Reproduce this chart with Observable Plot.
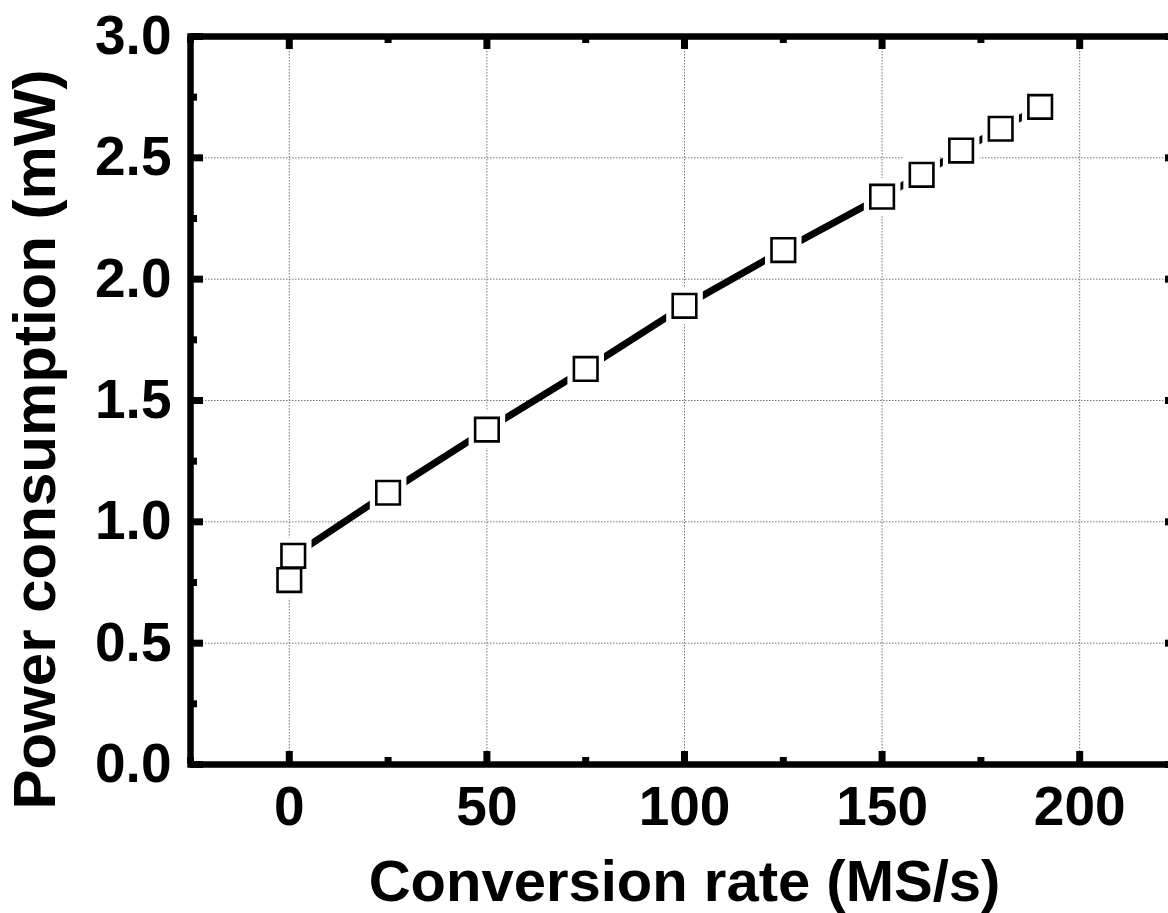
<!DOCTYPE html>
<html>
<head>
<meta charset="utf-8">
<script src="https://cdn.jsdelivr.net/npm/d3@7"></script>
<script src="https://cdn.jsdelivr.net/npm/@observablehq/plot@0.6"></script>
<style>
  html, body { margin: 0; padding: 0; background: #fff; overflow: hidden; }
  #chart svg { display: block; }
</style>
</head>
<body>
<div id="chart"></div>
<script>
// Data
const rate = [0, 1, 25, 50, 75, 100, 125, 150, 160, 170, 180, 190];          // MS/s
const power = [0.76, 0.86, 1.12, 1.38, 1.63, 1.89, 2.12, 2.34, 2.43, 2.53, 2.62, 2.71]; // mW
const xMajorTicks = [0, 50, 100, 150, 200];
const xMinorTicks = [-25, 25, 75, 125, 175, 225];
const yMajorTicks = [0, 0.5, 1.0, 1.5, 2.0, 2.5, 3.0];
const yMinorTicks = [0.25, 0.75, 1.25, 1.75, 2.25, 2.75];
const xTitle = "Conversion rate (MS/s)";
const yTitle = "Power consumption (mW)";

const data = rate.map((r, i) => ({rate: r, power: power[i]}));

const W = 1168, H = 913;
const mL = 190, mR = -10, mT = 36, mB = 149;
const plotW = W - mL - mR, plotH = H - mT - mB;
const majorLen = 13, minorLen = 7;
const tickW = 7;

const chart = Plot.plot({
  width: W,
  height: H,
  marginLeft: mL,
  marginRight: mR,
  marginTop: mT,
  marginBottom: mB,
  style: {fontFamily: "'Liberation Sans', Arial, sans-serif", fontWeight: "bold", background: "white", color: "black", overflow: "hidden"},
  x: {domain: [-25, 225]},
  y: {domain: [0, 3]},
  marks: [
    // dotted grid
    Plot.gridX(xMajorTicks, {stroke: "#777", strokeOpacity: 1, strokeWidth: 1, strokeDasharray: "1.5,1.5"}),
    Plot.gridY(yMajorTicks.filter(d => d > 0 && d < 3), {stroke: "#777", strokeOpacity: 1, strokeWidth: 1, strokeDasharray: "1.5,1.5"}),
    // tick labels
    Plot.axisY(yMajorTicks, {tickSize: 0, tickPadding: 19, tickFormat: d3.format(".1f"), fontSize: 55, fontWeight: "bold", label: null}),
    Plot.axisX(xMajorTicks, {tickSize: 0, tickPadding: 21, tickFormat: d3.format("d"), fontSize: 55, fontWeight: "bold", label: null}),
    // inward ticks: bottom & top
    Plot.ruleX(xMajorTicks, {x: d => d, insetTop: plotH - majorLen, stroke: "black", strokeWidth: tickW}),
    Plot.ruleX(xMinorTicks, {x: d => d, insetTop: plotH - minorLen, stroke: "black", strokeWidth: tickW}),
    Plot.ruleX(xMajorTicks, {x: d => d, insetBottom: plotH - majorLen, stroke: "black", strokeWidth: tickW}),
    Plot.ruleX(xMinorTicks, {x: d => d, insetBottom: plotH - minorLen, stroke: "black", strokeWidth: tickW}),
    // inward ticks: left & right
    Plot.ruleY(yMajorTicks, {y: d => d, insetRight: plotW - majorLen, stroke: "black", strokeWidth: tickW}),
    Plot.ruleY(yMinorTicks, {y: d => d, insetRight: plotW - minorLen, stroke: "black", strokeWidth: tickW}),
    Plot.ruleY(yMajorTicks, {y: d => d, insetLeft: plotW - majorLen, stroke: "black", strokeWidth: tickW}),
    Plot.ruleY(yMinorTicks, {y: d => d, insetLeft: plotW - minorLen, stroke: "black", strokeWidth: tickW}),
    // frame
    Plot.frame({stroke: "black", strokeWidth: 6.5}),
    // data line
    Plot.line(data, {x: "rate", y: "power", stroke: "black", strokeWidth: 7}),
    // white halo around markers to create gaps in the line
    Plot.dot(data, {x: "rate", y: "power", symbol: "square", r: 13.3, fill: "white", stroke: "white", strokeWidth: 13}),
    // markers
    Plot.dot(data, {x: "rate", y: "power", symbol: "square", r: 13.3, fill: "white", stroke: "black", strokeWidth: 2.6}),
    // axis titles
    Plot.text([xTitle], {text: d => d, frameAnchor: "bottom", textAnchor: "middle", dy: 118, lineAnchor: "middle", fontSize: 58, fontWeight: "bold", fill: "black"}),
    Plot.text([yTitle], {text: d => d, frameAnchor: "left", textAnchor: "middle", rotate: -90, dx: -155, dy: 39, lineAnchor: "middle", fontSize: 60, fontWeight: "bold", fill: "black"})
  ]
});

document.getElementById("chart").appendChild(chart);
</script>
</body>
</html>
